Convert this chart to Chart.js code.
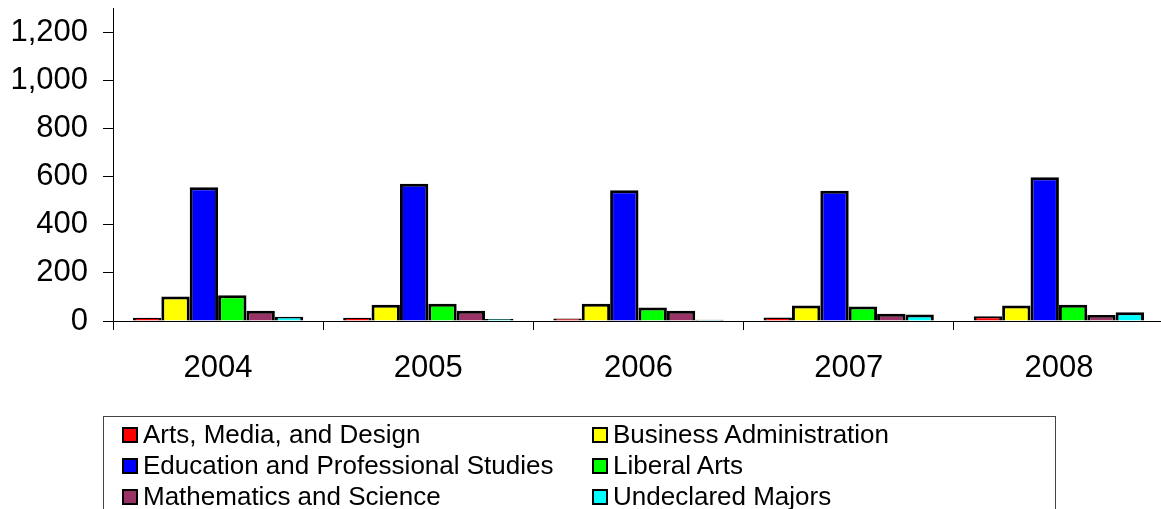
<!DOCTYPE html>
<html>
<head>
<meta charset="utf-8">
<script src="https://cdn.jsdelivr.net/npm/chart.js@4.4.1/dist/chart.umd.min.js"></script>
<style>
    html, body { margin: 0; padding: 0; background: #fff; overflow: hidden; }
    #wrap { position: relative; width: 1170px; height: 509px; }
    #legend {
        position: absolute; left: 103px; top: 416px; width: 953px; height: 120px;
        border: 1px solid #444; box-sizing: border-box;
        font-family: 'Liberation Sans', Arial, sans-serif; font-size: 26px; color: #000;
    }
    .item { position: absolute; display: flex; align-items: center; white-space: nowrap; height: 31px; }
    .swatch { width: 12px; height: 12px; border: 2px solid #000; margin-right: 5px; }
</style>
</head>
<body>
<div id="wrap">
    <canvas id="chart"></canvas>
    <div id="legend"></div>
</div>
<script>
// Values
const years = ['2004', '2005', '2006', '2007', '2008'];
const artsMediaDesign = [14, 14, 10, 15, 20];
const businessAdmin = [102, 68, 72, 64, 64];
const educationProf = [555, 570, 543, 541, 597];
const liberalArts = [107, 72, 56, 60, 68];
const mathScience = [43, 43, 43, 30, 25];
const undeclaredMajors = [18, 8, 5, 27, 36];
const yTickValues = [0, 200, 400, 600, 800, 1000, 1200];

const fontFamily = "'Liberation Sans', Arial, sans-serif";

function makeDataset(label, data, color) {
    return {
        label: label,
        data: data,
        backgroundColor: color,
        borderColor: '#000',
        borderWidth: 3,
        categoryPercentage: 0.81,
        barPercentage: 1.0
    };
}

const canvas = document.getElementById('chart');

const chart = new Chart(canvas, {
    type: 'bar',
    data: {
        labels: years,
        datasets: [
            makeDataset('Arts, Media, and Design', artsMediaDesign, '#ff0000'),
            makeDataset('Business Administration', businessAdmin, '#ffff00'),
            makeDataset('Education and Professional Studies', educationProf, '#0000ff'),
            makeDataset('Liberal Arts', liberalArts, '#00ff00'),
            makeDataset('Mathematics and Science', mathScience, '#993366'),
            makeDataset('Undeclared Majors', undeclaredMajors, '#00ffff')
        ]
    },
    options: {
        responsive: true,
        maintainAspectRatio: false,
        animation: false,
        layout: { padding: { top: 8, left: 0, right: 6, bottom: 128 } },
        plugins: { legend: { display: false }, tooltip: { enabled: false } },
        scales: {
            x: {
                afterFit: s => { s.height = 60; s.paddingLeft = 0; s.paddingRight = 0; },
                ticks: { color: '#000', padding: 20, font: { family: fontFamily, size: 31 } },
                grid: { offset: true, drawOnChartArea: false, tickLength: 9, color: '#000' },
                border: { color: '#000', width: 1 }
            },
            y: {
                min: 0,
                max: 1300,
                afterBuildTicks: s => { s.ticks = yTickValues.map(v => ({ value: v })); },
                afterFit: s => { s.width = 113; s.paddingTop = 0; s.paddingBottom = 0; },
                ticks: {
                    color: '#000', padding: 15,
                    font: { family: fontFamily, size: 31 },
                    callback: v => v.toLocaleString('en-US')
                },
                grid: { drawOnChartArea: false, tickLength: 10, color: '#000' },
                border: { color: '#000', width: 1 }
            }
        }
    }
});

// legend in two columns, built from the chart datasets
const legend = document.getElementById('legend');
const colX = [18, 488];
const rowTop = [2, 33, 64];
chart.data.datasets.forEach((ds, i) => {
    const item = document.createElement('div');
    item.className = 'item';
    item.style.left = colX[i % 2] + 'px';
    item.style.top = rowTop[Math.floor(i / 2)] + 'px';
    const sw = document.createElement('span');
    sw.className = 'swatch';
    sw.style.background = ds.backgroundColor;
    const txt = document.createElement('span');
    txt.textContent = ds.label;
    item.appendChild(sw);
    item.appendChild(txt);
    legend.appendChild(item);
});
</script>
</body>
</html>
